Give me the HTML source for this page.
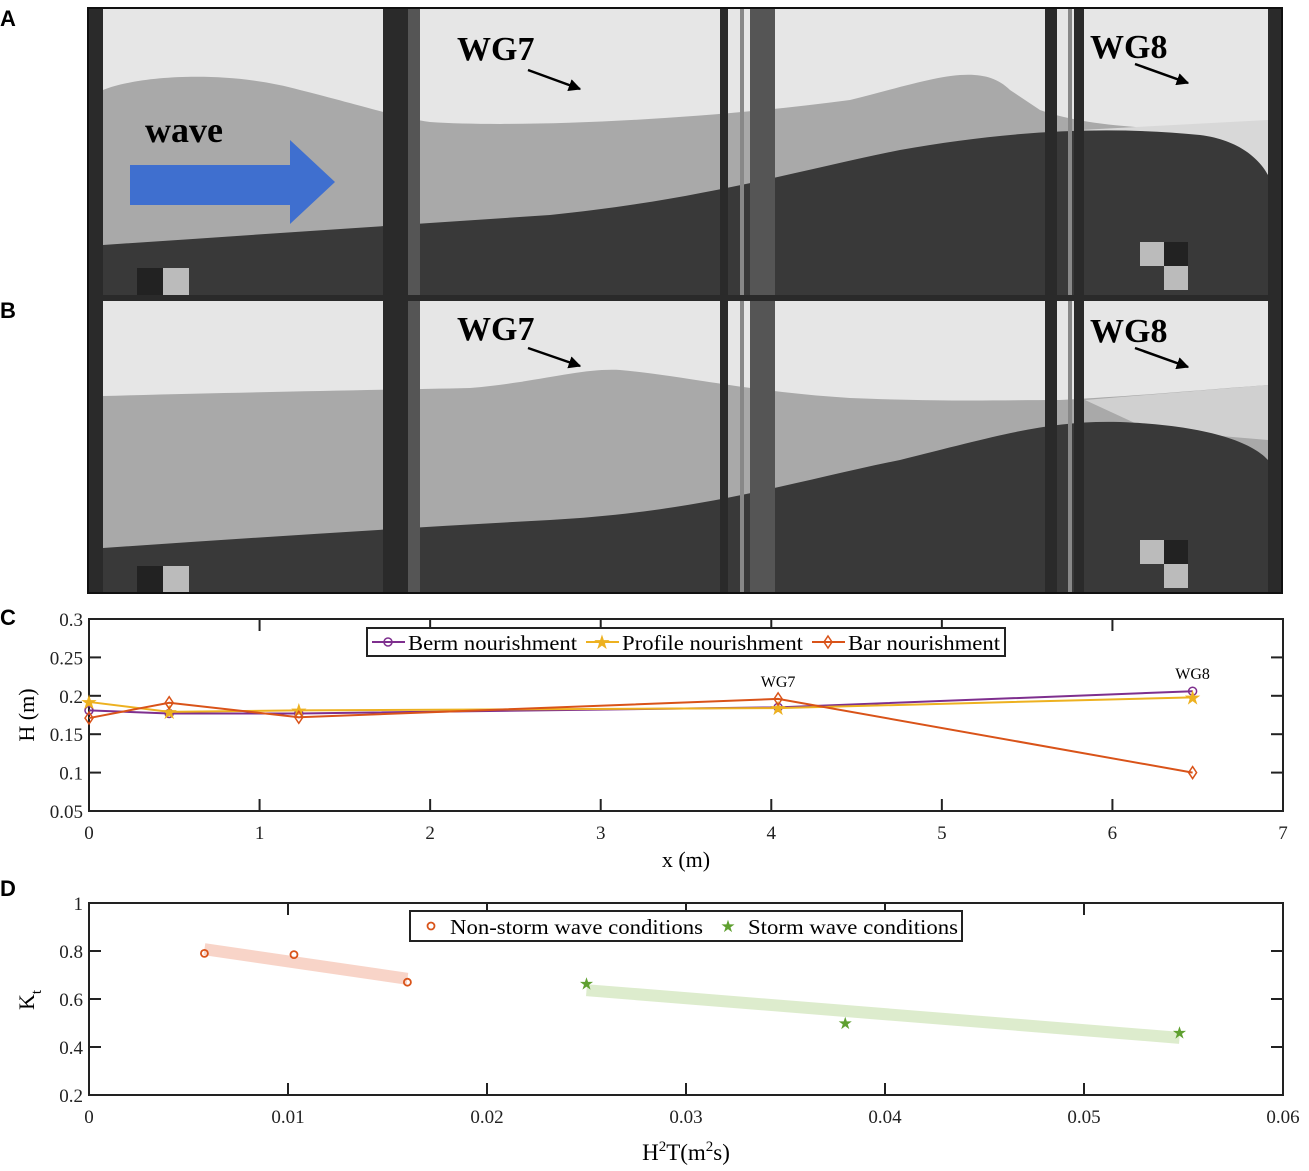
<!DOCTYPE html>
<html><head><meta charset="utf-8">
<style>
body{margin:0;background:#fff;width:1309px;height:1171px;overflow:hidden;font-family:"Liberation Serif",serif}
svg{position:absolute;left:0;top:0}
.pl{font-family:"Liberation Sans",sans-serif;font-weight:bold;font-size:22px}
.tk{font-size:19px;fill:#222}
</style></head><body>
<svg width="1309" height="1171">
<defs><marker id="ah" viewBox="0 0 10 10" refX="9" refY="5" markerWidth="5" markerHeight="5" orient="auto"><path d="M0,0 L10,5 L0,10Z" fill="#000"/></marker></defs>
<text class="pl" x="0" y="26">A</text>
<text class="pl" x="0" y="318">B</text>
<text class="pl" x="0" y="625">C</text>
<text class="pl" x="0" y="896">D</text>

<g>
<rect x="88" y="8" width="1194" height="288" fill="#e6e6e6"/>
<path d="M103,90 C140,75 230,70 300,90 C360,105 400,118 430,122 C520,128 700,120 850,100 C930,80 980,60 1010,90 L1040,110 C1100,132 1200,128 1268,135 L1268,296 L103,296Z" fill="#a9a9a9"/>
<path d="M1080,130 L1268,120 L1268,175 L1200,160Z" fill="#d8d8d8"/>
<path d="M103,245 C250,235 400,225 550,215 C700,200 800,170 900,150 C1000,132 1100,125 1200,135 C1240,140 1260,160 1268,175 L1268,296 L103,296Z" fill="#393939"/>
<rect x="130" y="165" width="160" height="40" fill="#3f6fcf"/>
<polygon points="290,140 335,182 290,224" fill="#3f6fcf"/>
<text x="145" y="142" font-size="36" font-weight="bold" font-family="Liberation Serif">wave</text>
<rect x="163" y="268" width="26" height="28" fill="#bbb"/><rect x="137" y="268" width="26" height="28" fill="#222"/>
<rect x="1140" y="242" width="24" height="24" fill="#bbb"/><rect x="1164" y="266" width="24" height="24" fill="#bbb"/><rect x="1164" y="242" width="24" height="24" fill="#222"/>
</g>
<g>
<rect x="88" y="300" width="1194" height="293" fill="#e6e6e6"/>
<path d="M103,396 C250,392 380,390 470,388 C540,382 580,368 620,370 C680,375 750,392 850,398 C950,402 1000,400 1060,400 C1150,395 1200,390 1268,385 L1268,593 L103,593Z" fill="#a9a9a9"/>
<path d="M1085,400 L1268,385 L1268,440 L1150,430Z" fill="#d0d0d0"/>
<path d="M103,548 C250,538 400,528 550,520 C700,512 800,480 900,460 C1000,435 1050,420 1120,422 C1200,425 1250,440 1268,460 L1268,593 L103,593Z" fill="#393939"/>
<rect x="163" y="566" width="26" height="27" fill="#bbb"/><rect x="137" y="566" width="26" height="27" fill="#222"/>
<rect x="1140" y="540" width="24" height="24" fill="#bbb"/><rect x="1164" y="564" width="24" height="24" fill="#bbb"/><rect x="1164" y="540" width="24" height="24" fill="#222"/>
</g>
<g fill="#2a2a2a">
<rect x="88" y="8" width="15" height="585"/><rect x="1268" y="8" width="14" height="585"/>
<rect x="383" y="8" width="25" height="585"/><rect x="408" y="8" width="12" height="585" fill="#555"/>
<rect x="720" y="8" width="8" height="585"/><rect x="740" y="8" width="4" height="585" fill="#888"/><rect x="750" y="8" width="25" height="585" fill="#555"/>
<rect x="1045" y="8" width="12" height="585"/><rect x="1068" y="8" width="4" height="585" fill="#888"/><rect x="1074" y="8" width="10" height="585"/>
<rect x="88" y="295" width="1194" height="6"/>
<rect x="88" y="8" width="1194" height="585" fill="none" stroke="#111" stroke-width="2"/>
</g>
<g font-size="34" font-weight="bold">
<text x="457" y="60">WG7</text><line x1="528" y1="70" x2="580" y2="89" stroke="#000" stroke-width="2.5" marker-end="url(#ah)"/>
<text x="1090" y="58">WG8</text><line x1="1135" y1="64" x2="1188" y2="83" stroke="#000" stroke-width="2.5" marker-end="url(#ah)"/>
<text x="457" y="340">WG7</text><line x1="528" y1="348" x2="580" y2="366" stroke="#000" stroke-width="2.5" marker-end="url(#ah)"/>
<text x="1090" y="342">WG8</text><line x1="1135" y1="348" x2="1188" y2="367" stroke="#000" stroke-width="2.5" marker-end="url(#ah)"/>
</g>
<g id="chartC"></g>
<g id="chartD"></g>
</svg>
<script>
const NS='http://www.w3.org/2000/svg';
const cX=[0,0.47,1.23,4.04,6.47];
const berm=[0.181,0.177,0.177,0.185,0.206];
const profile=[0.192,0.179,0.181,0.184,0.198];
const bar=[0.171,0.191,0.172,0.196,0.100];
const cXTicks=[0,1,2,3,4,5,6,7];
const cYTicks=[0.05,0.1,0.15,0.2,0.25,0.3];
const cYLabels=['0.05','0.1','0.15','0.2','0.25','0.3'];
const nsX=[0.0058,0.0103,0.016];
const nsY=[0.79,0.785,0.67];
const stX=[0.025,0.038,0.0548];
const stY=[0.665,0.50,0.46];
const dXTicks=[0,0.01,0.02,0.03,0.04,0.05,0.06];
const dXLabels=['0','0.01','0.02','0.03','0.04','0.05','0.06'];
const dYTicks=[0.2,0.4,0.6,0.8,1];
const dYLabels=['0.2','0.4','0.6','0.8','1'];
function mk(p,t,a){const e=document.createElementNS(NS,t);for(const k in a)e.setAttribute(k,a[k]);p.appendChild(e);return e;}
function frame(g,L,T,R,B,xt,xl,yt,yl,sx,sy){
  const box=mk(g,'rect',{x:L,y:T,width:R-L,height:B-T,fill:'none',stroke:'#222','stroke-width':2});
  
  xt.forEach((v,i)=>{const x=sx(v);mk(g,'line',{x1:x,y1:B,x2:x,y2:B-12,stroke:'#222','stroke-width':2});mk(g,'line',{x1:x,y1:T,x2:x,y2:T+12,stroke:'#222','stroke-width':2});
    const t=mk(g,'text',{x:x,y:B+28,'text-anchor':'middle',class:'tk'});t.textContent=xl[i];
    });
  yt.forEach((v,i)=>{const y=sy(v);mk(g,'line',{x1:L,y1:y,x2:L+12,y2:y,stroke:'#222','stroke-width':2});mk(g,'line',{x1:R,y1:y,x2:R-12,y2:y,stroke:'#222','stroke-width':2});
    const t=mk(g,'text',{x:L-6,y:y+7,'text-anchor':'end',class:'tk'});t.textContent=yl[i];
    });
}
// Chart C
(function(){
const g=document.getElementById('chartC');

const L=89,R=1283,T=619,B=811;
const sx=v=>L+v/7*(R-L), sy=v=>B-(v-0.05)/0.25*(B-T);
frame(g,L,T,R,B,cXTicks,cXTicks.map(String),cYTicks,cYLabels,sx,sy);
const series=[[berm,'#7e2f8e','o'],[profile,'#edb120','*'],[bar,'#d95319','d']];
series.forEach(([ys,c,m])=>{
  const pl=mk(g,'polyline',{points:ys.map((y,i)=>sx(cX[i])+','+sy(y)).join(' '),fill:'none',stroke:c,'stroke-width':2});
  
  ys.forEach((y,i)=>{const x=sx(cX[i]),yy=sy(y);let e;
    if(m==='o')e=mk(g,'circle',{cx:x,cy:yy,r:4,fill:'none',stroke:c,'stroke-width':1.5});
    else if(m==='d')e=mk(g,'polygon',{points:`${x},${yy-6} ${x+4},${yy} ${x},${yy+6} ${x-4},${yy}`,fill:'none',stroke:c,'stroke-width':1.5});
    else{e=mk(g,'text',{x:x,y:yy+7,'text-anchor':'middle','font-size':20,fill:c});e.textContent='★';}
    });
});
let t=mk(g,'text',{x:sx(cX[3]),y:sy(bar[3])-12,'text-anchor':'middle','font-size':16});t.textContent='WG7';

t=mk(g,'text',{x:sx(cX[4]),y:sy(berm[4])-12,'text-anchor':'middle','font-size':16});t.textContent='WG8';

const lg=mk(g,'g',{});
mk(lg,'rect',{x:367,y:628,width:638,height:28,fill:'#fff',stroke:'#222','stroke-width':2});
const items=[['Berm nourishment','#7e2f8e',372,169],['Profile nourishment','#edb120',586,181],['Bar nourishment','#d95319',812,152]];
items.forEach(([n,c,x,w],i)=>{mk(lg,'line',{x1:x,y1:642,x2:x+33,y2:642,stroke:c,'stroke-width':2});
  if(i===0)mk(lg,'circle',{cx:x+16,cy:642,r:4,fill:'none',stroke:c,'stroke-width':1.5});
  else if(i===2)mk(lg,'polygon',{points:`${x+16},636 ${x+20},642 ${x+16},648 ${x+12},642`,fill:'none',stroke:c,'stroke-width':1.5});
  else{const s=mk(lg,'text',{x:x+16,y:649,'text-anchor':'middle','font-size':20,fill:c});s.textContent='★';}
  const tt=mk(lg,'text',{x:x+36,y:650,'font-size':21,textLength:w,lengthAdjust:'spacingAndGlyphs'});tt.textContent=n;
  });
t=mk(g,'text',{x:686,y:867,'text-anchor':'middle','font-size':22});t.textContent='x (m)';

t=mk(g,'text',{x:0,y:0,'text-anchor':'middle','font-size':22,transform:'translate(34,715) rotate(-90)'});t.textContent='H (m)';

})();
// Chart D
(function(){
const g=document.getElementById('chartD');

const L=89,R=1283,T=903,B=1095;
const sx=v=>L+v/0.06*(R-L), sy=v=>B-(v-0.2)/0.8*(B-T);
function band(xs,ys,c){
  const n=xs.length,mx=xs.reduce((a,b)=>a+b)/n,my=ys.reduce((a,b)=>a+b)/n;
  let num=0,den=0;xs.forEach((x,i)=>{num+=(x-mx)*(ys[i]-my);den+=(x-mx)*(x-mx);});
  const k=num/den,b=my-k*mx,x0=xs[0],x1=xs[n-1];
  const p=mk(g,'line',{x1:sx(x0),y1:sy(k*x0+b),x2:sx(x1),y2:sy(k*x1+b),stroke:c,'stroke-width':12,'stroke-opacity':0.3});
  
}
band(nsX,nsY,'#e8704a');band(stX,stY,'#8fbf5a');
frame(g,L,T,R,B,dXTicks,dXLabels,dYTicks,dYLabels,sx,sy);
nsX.forEach((x,i)=>{const e=mk(g,'circle',{cx:sx(x),cy:sy(nsY[i]),r:3.5,fill:'none',stroke:'#d95319','stroke-width':1.8});
  });
stX.forEach((x,i)=>{const e=mk(g,'text',{x:sx(x),y:sy(stY[i])+6,'text-anchor':'middle','font-size':17,fill:'#5fa030'});e.textContent='★';
  });
const lg=mk(g,'g',{});
mk(lg,'rect',{x:410,y:911,width:552,height:30,fill:'#fff',stroke:'#222','stroke-width':2});
mk(lg,'circle',{cx:431,cy:926,r:3.5,fill:'none',stroke:'#d95319','stroke-width':1.8});
let t=mk(lg,'text',{x:450,y:934,'font-size':21,textLength:253,lengthAdjust:'spacingAndGlyphs'});t.textContent='Non-storm wave conditions';

t=mk(lg,'text',{x:728,y:932,'text-anchor':'middle','font-size':17,fill:'#5fa030'});t.textContent='★';
t=mk(lg,'text',{x:748,y:934,'font-size':21,textLength:210,lengthAdjust:'spacingAndGlyphs'});t.textContent='Storm wave conditions';

t=mk(g,'text',{x:686,y:1160,'text-anchor':'middle','font-size':23});
t.innerHTML='H<tspan dy="-9" font-size="15">2</tspan><tspan dy="9">T(m</tspan><tspan dy="-9" font-size="15">2</tspan><tspan dy="9">s)</tspan>';

t=mk(g,'text',{x:0,y:0,'font-size':22,transform:'translate(34,1010) rotate(-90)'});
t.innerHTML='K<tspan dy="7" font-size="15">t</tspan>';

})();
</script>
</body></html>
